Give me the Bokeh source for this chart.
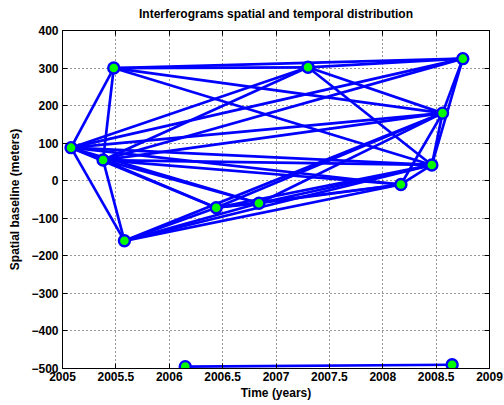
from bokeh.plotting import figure
from bokeh.models import Range1d, FixedTicker, LinearAxis, ColumnDataSource
from bokeh.embed import file_html
from bokeh.resources import INLINE

# Acquisition nodes (time in years, spatial baseline in meters)
node_time = [2005.08, 2005.48, 2005.38, 2005.58, 2006.44, 2006.84, 2007.30,
             2008.17, 2008.46, 2008.56, 2008.75, 2006.15, 2008.65]
node_bperp = [88, 300, 55, -160, -72, -60, 302, -10, 42, 180, 325, -495, -490]

# Interferogram pairs (indices into node arrays)
pair_a = [0, 0, 0, 0, 0, 0, 0, 0, 0, 0,
          1, 1, 1, 1, 1,
          2, 2, 2, 2, 2, 2, 2, 2,
          3, 3, 3, 3, 3,
          4, 4, 4, 4,
          5, 5, 5,
          6, 6, 6,
          7, 7,
          8, 8,
          9,
          11]
pair_b = [1, 2, 3, 6, 10, 9, 8, 7, 5, 4,
          2, 10, 6, 9, 8,
          3, 6, 10, 9, 8, 7, 5, 4,
          4, 5, 7, 8, 9,
          5, 7, 8, 9,
          7, 8, 9,
          10, 9, 8,
          8, 9,
          9, 10,
          10,
          12]

x_ticks = [2005, 2005.5, 2006, 2006.5, 2007, 2007.5, 2008, 2008.5, 2009]
x_tick_labels = ["2005", "2005.5", "2006", "2006.5", "2007", "2007.5", "2008", "2008.5", "2009"]
y_ticks = [-500, -400, -300, -200, -100, 0, 100, 200, 300, 400]
title_text = "Interferograms spatial and temporal distribution"

FONT = "Liberation Sans"

p = figure(width=504, height=405, output_backend="svg", toolbar_location=None,
           x_range=Range1d(2005, 2009), y_range=Range1d(-500, 400),
           min_border_left=62, min_border_right=15, min_border_top=30, min_border_bottom=37)

xs = [[node_time[a], node_time[b]] for a, b in zip(pair_a, pair_b)]
ys = [[node_bperp[a], node_bperp[b]] for a, b in zip(pair_a, pair_b)]
p.multi_line(xs, ys, line_color="#0000ff", line_width=2.7)

src = ColumnDataSource(dict(x=node_time, y=node_bperp))
p.scatter("x", "y", source=src, size=11, fill_color="#00ff00", line_color="#0000ff", line_width=2.4)

for ax in (p.xaxis[0], p.yaxis[0]):
    ax.major_label_text_font = FONT
    ax.major_label_text_font_size = "12px"
    ax.major_label_text_font_style = "bold"
    ax.major_label_text_color = "black"
    ax.axis_label_text_font = FONT
    ax.axis_label_text_font_size = "12px"
    ax.axis_label_text_font_style = "bold"
    ax.axis_label_text_color = "black"
    ax.major_tick_in = 5
    ax.major_tick_out = 0
    ax.minor_tick_line_color = None
    ax.axis_line_color = "black"
    ax.major_tick_line_color = "black"

p.xaxis[0].ticker = FixedTicker(ticks=x_ticks)
p.xaxis[0].major_label_overrides = {t: l for t, l in zip(x_ticks, x_tick_labels)}
p.xaxis[0].axis_label = "Time (years)"
p.xaxis[0].major_label_standoff = 3
p.xaxis[0].axis_label_standoff = 2
p.yaxis[0].ticker = FixedTicker(ticks=y_ticks)
p.yaxis[0].axis_label = "Spatial baseline (meters)"
p.yaxis[0].major_label_standoff = 4
p.yaxis[0].axis_label_standoff = 6

# box ticks on top and right (MATLAB style), no tick labels; the top axis carries the title
for loc in ("above", "right"):
    ax = LinearAxis(ticker=FixedTicker(ticks=x_ticks if loc == "above" else y_ticks),
                    major_label_text_font_size="1px", major_label_text_color=None,
                    major_tick_in=5, major_tick_out=0,
                    minor_tick_line_color=None, axis_line_color="black",
                    major_tick_line_color="black", major_label_standoff=0)
    if loc == "above":
        ax.axis_label = title_text
        ax.axis_label_text_font = FONT
        ax.axis_label_text_font_size = "12px"
        ax.axis_label_text_font_style = "bold"
        ax.axis_label_text_color = "black"
        ax.axis_label_standoff = 10
    p.add_layout(ax, loc)

p.xgrid.ticker = FixedTicker(ticks=x_ticks)
p.ygrid.ticker = FixedTicker(ticks=y_ticks)
for g in (p.xgrid, p.ygrid):
    g.grid_line_color = "black"
    g.grid_line_dash = "1 3"
    g.grid_line_alpha = 0.8
    g.grid_line_width = 1

p.outline_line_color = "black"
p.background_fill_color = "white"
p.border_fill_color = "white"

open("out.html", "w").write(file_html(p, INLINE))
